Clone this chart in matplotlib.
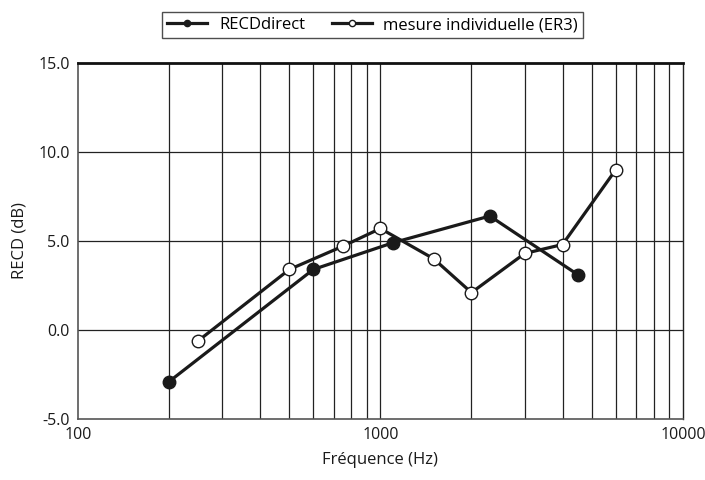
import numpy as np
import matplotlib.pyplot as plt
from matplotlib.ticker import FixedLocator, NullFormatter, NullLocator

plt.rcParams['font.family'] = ['Open Sans', 'DejaVu Sans']

# RECDdirect
freq_direct = [200, 600, 1100, 2300, 4500]
recd_direct = [-2.9, 3.4, 4.9, 6.4, 3.1]

# mesure individuelle (ER3)
freq_er3 = [250, 500, 750, 1000, 1500, 2000, 3000, 4000, 6000]
recd_er3 = [-0.6, 3.4, 4.7, 5.7, 4.0, 2.1, 4.3, 4.8, 9.0]

yticks = [-5.0, 0.0, 5.0, 10.0, 15.0]
xticks = [100, 1000, 10000]

fig = plt.figure(figsize=(7.05, 4.8), dpi=100)
ax = fig.add_axes([0.1106, 0.127, 0.858, 0.742])

ax.set_xscale('log')
ax.set_xlim(100, 10000)
ax.set_ylim(-5, 15)

# grid lines on every decade subdivision
minor = [m * d for d in (100, 1000) for m in range(2, 10)]
for f in minor + [1000]:
    ax.axvline(f, color='#222222', lw=0.9, zorder=1)
for y in yticks[1:-1]:
    ax.axhline(y, color='#222222', lw=0.9, zorder=1)

ax.plot(freq_direct, recd_direct, color='#1a1a1a', lw=2.3, marker='o',
        markersize=9, markerfacecolor='#1a1a1a', markeredgecolor='#1a1a1a',
        label='RECDdirect', zorder=3)
ax.plot(freq_er3, recd_er3, color='#1a1a1a', lw=2.3, marker='o',
        markersize=9, markerfacecolor='white', markeredgecolor='#1a1a1a',
        markeredgewidth=1.0, label='mesure individuelle (ER3)', zorder=4)

ax.xaxis.set_major_locator(FixedLocator(xticks))
ax.xaxis.set_minor_locator(NullLocator())
ax.xaxis.set_minor_formatter(NullFormatter())
ax.set_xticklabels([str(x) for x in xticks])
ax.set_yticks(yticks)
ax.set_yticklabels(['%.1f' % y for y in yticks])
ax.tick_params(length=0, labelsize=11.5, colors='#1a1a1a', pad=6)

ax.spines['top'].set_linewidth(2.0)
ax.spines['top'].set_color('#111111')
ax.spines['right'].set_linewidth(1.0)
ax.spines['right'].set_color('#222222')
for s in ('left', 'bottom'):
    ax.spines[s].set_linewidth(1.2)
    ax.spines[s].set_color('#555555')

ax.set_xlabel('Fréquence (Hz)', fontsize=12, color='#1a1a1a', labelpad=6)
ax.set_ylabel('RECD (dB)', fontsize=12, color='#1a1a1a', labelpad=8)

leg = ax.legend(loc='center', bbox_to_anchor=(0.487, 1.106), ncol=2,
                frameon=True, fancybox=False, edgecolor='#222222',
                fontsize=12, handlelength=2.4, columnspacing=1.6,
                borderpad=0.3, handletextpad=0.7, markerscale=0.5)
leg.get_frame().set_linewidth(1.0)

fig.savefig('out.png', dpi=100)
